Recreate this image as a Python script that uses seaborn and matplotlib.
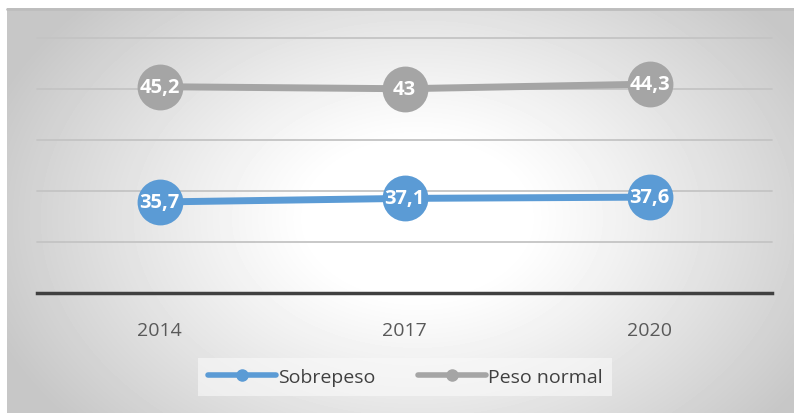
import numpy as np
import pandas as pd
import seaborn as sns
import matplotlib.pyplot as plt
from matplotlib.lines import Line2D

anos = ['2014', '2017', '2020']
sobrepeso = [35.7, 37.1, 37.6]
peso_normal = [45.2, 43.0, 44.3]
series = ['Sobrepeso', 'Peso normal']
cores = ['#5b9bd5', '#a5a5a5']

# linhas empilhadas (como no gráfico original do Excel)
df = pd.DataFrame({
    'ano': anos * 2,
    'serie': [series[0]] * 3 + [series[1]] * 3,
    'valor': sobrepeso + peso_normal,
    'nivel': sobrepeso + [s + p for s, p in zip(sobrepeso, peso_normal)],
})

sns.set_theme(style="white")
plt.rcParams['font.family'] = ['Open Sans', 'DejaVu Sans']

fig = plt.figure(figsize=(7.94, 4.14), dpi=100)
fig.patch.set_facecolor('white')

# fundo com gradiente radial
bg = fig.add_axes([7 / 794, 0, 787 / 794, 405 / 414])
yy, xx = np.mgrid[0:405, 0:787]
r = np.sqrt(((xx - 410) / 430) ** 2 + ((yy - 210) / 300) ** 2)
v = 1 - 0.22 * np.clip((r - 0.25) / 0.8, 0, 1) ** 1.1
bg.imshow(v, cmap='gray', vmin=0, vmax=1, aspect='auto', interpolation='bilinear')
bg.set_axis_off()
fig.add_artist(Line2D([7 / 794, 1], [1 - 9.5 / 414] * 2, color='#bdbdbd', lw=2))

ax = fig.add_axes([37 / 794, 1 - 294 / 414, 735 / 794, 255 / 414])
ax.patch.set_alpha(0)

sns.lineplot(data=df, x='ano', y='nivel', hue='serie', palette=cores, lw=5,
             marker='o', markersize=33, markeredgewidth=0, legend=False, ax=ax, sort=False)

for _, row in df.iterrows():
    ax.text(row['ano'], row['nivel'], f"{row['valor']:g}".replace('.', ','),
            ha='center', va='center', color='white', fontsize=14.5, fontweight='bold')

ax.set_xlim(-0.5, 2.5)
ax.set_ylim(0, 100)
ax.set_yticks([20, 40, 60, 80, 100])
ax.yaxis.grid(True, color='#c4c4c4', lw=1.3)
for g in ax.yaxis.get_gridlines():
    g.set_clip_on(False)
ax.set_axisbelow(True)
ax.tick_params(axis='y', left=False, labelleft=False)
ax.tick_params(axis='x', bottom=False, labelsize=14, labelcolor='#595959', pad=14)
ax.set_xlabel('')
ax.set_ylabel('')
sns.despine(ax=ax, left=True)
ax.spines['bottom'].set_color('#404040')
ax.spines['bottom'].set_linewidth(2.5)

handles = [Line2D([], [], color=c, lw=4, marker='o', markersize=8) for c in cores]
leg = fig.legend(handles, series, loc='center', bbox_to_anchor=(405 / 794, 1 - 378 / 414),
                 ncol=2, frameon=True, fontsize=14, handlelength=3.5, handletextpad=0.1,
                 columnspacing=2.2, borderpad=0.5, labelcolor='#404040')
leg.get_frame().set_facecolor('#fafafa')
leg.get_frame().set_alpha(0.6)
leg.get_frame().set_edgecolor('none')
leg.get_frame().set_boxstyle('square', pad=0)

fig.savefig('out.png', dpi=100)
